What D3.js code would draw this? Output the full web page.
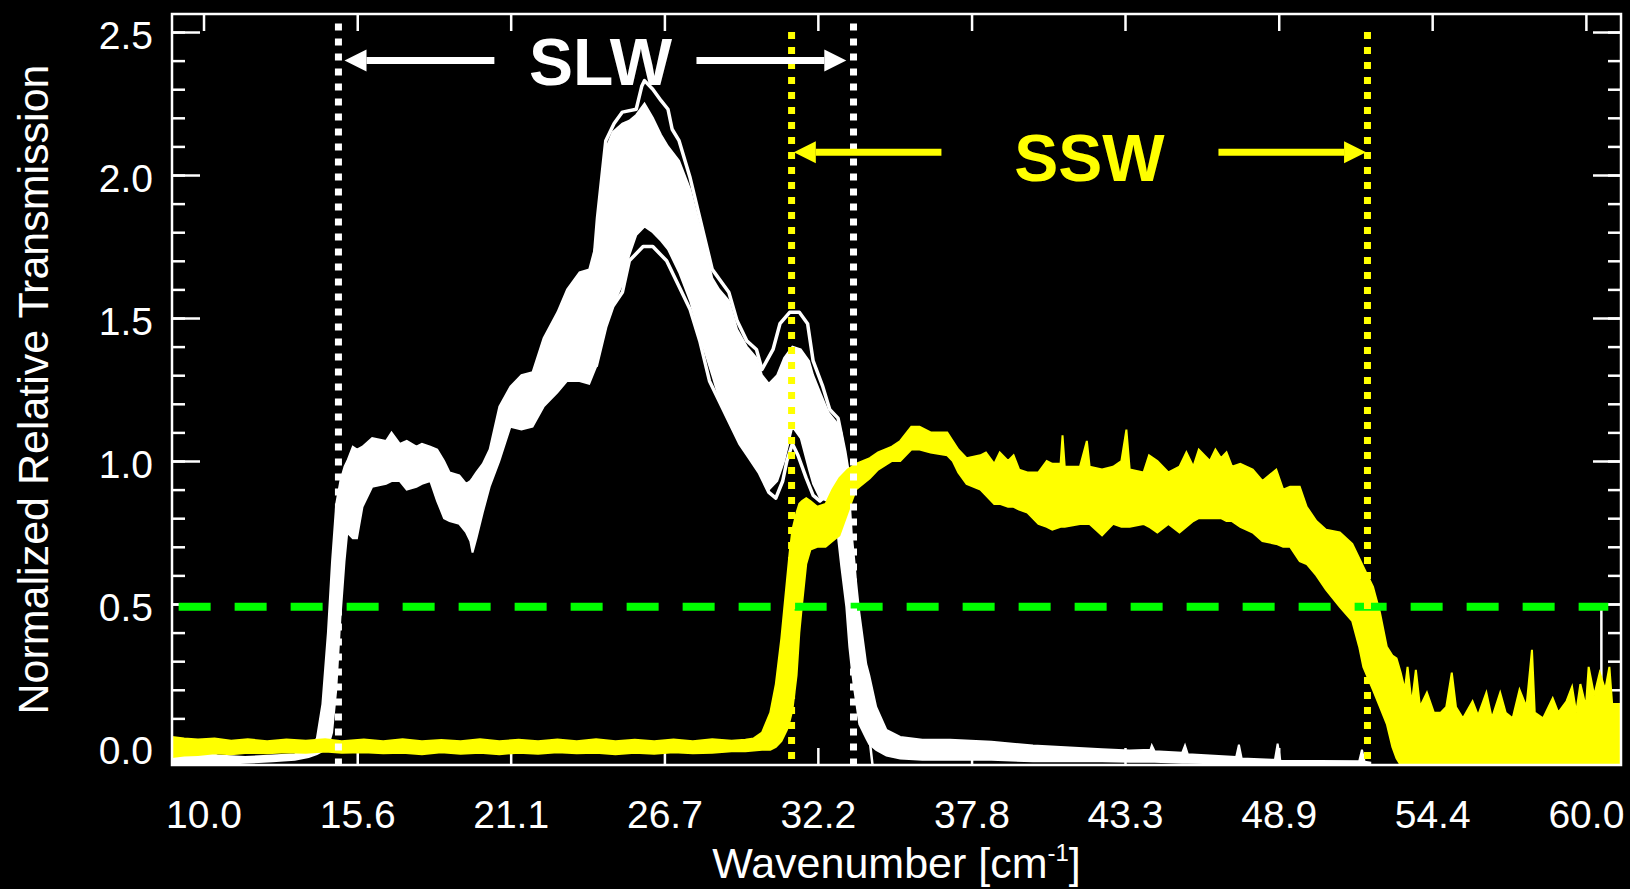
<!DOCTYPE html>
<html>
<head>
<meta charset="utf-8">
<script src="https://cdn.jsdelivr.net/npm/d3@7"></script>
<style>
  html, body { margin: 0; padding: 0; background: #000; }
  svg { display: block; }
  text { font-family: "Liberation Sans", Arial, Helvetica, sans-serif; fill: #fff; }
</style>
</head>
<body>
<div id="chart"></div>
<script>
// SPIRE FTS spectral response: SLW (white) and SSW (yellow) detector bundles

const width = 1630, height = 889;
const margin = {left: 172, right: 9, top: 14, bottom: 124};

// axis ticks
const xTicks = [10.0, 15.56, 21.11, 26.67, 32.22, 37.78, 43.33, 48.89, 54.44, 60.0];
const yMajor = [0.0, 0.5, 1.0, 1.5, 2.0, 2.5];

// SLW dense bundle: [wavenumber, low, high]
const slwBand = [
  [8.86,-0.07,-0.02],[10.3,-0.07,-0.02],[10.5,-0.06,-0.03],[11.5,-0.055,-0.035],[12.5,-0.05,-0.03],
  [13.3,-0.045,-0.025],[13.8,-0.035,-0.01],[14.1,-0.025,0.03],[14.3,-0.015,0.15],[14.5,0.0,0.4],
  [14.65,0.05,0.65],[14.8,0.2,0.85],[14.95,0.45,0.93],[15.1,0.65,0.98],[15.2,0.75,1.0],
  [15.4,0.73,1.05],[15.55,0.73,1.04],[15.75,0.84,1.05],[16.1,0.91,1.08],[16.6,0.92,1.07],
  [16.8,0.93,1.1],[17.1,0.93,1.06],[17.35,0.9,1.07],[17.7,0.91,1.05],[17.9,0.92,1.06],
  [18.2,0.93,1.05],[18.45,0.86,1.04],[18.7,0.8,1.0],[18.9,0.79,0.96],[19.25,0.78,0.95],
  [19.5,0.75,0.92],[19.65,0.72,0.93],[19.73,0.68,0.94],[19.87,0.73,0.96],[20.1,0.82,0.99],
  [20.35,0.91,1.04],[20.7,1.0,1.19],[21.1,1.12,1.26],[21.5,1.11,1.3],[21.9,1.12,1.31],
  [22.3,1.19,1.43],[22.8,1.24,1.52],[23.15,1.28,1.6],[23.6,1.28,1.66],[23.95,1.27,1.67],
  [24.2,1.33,1.76],[24.55,1.47,2.09],[24.8,1.54,2.15],[25.15,1.62,2.18],[25.4,1.72,2.19],
  [25.65,1.79,2.21],[25.95,1.82,2.25],[26.25,1.8,2.2],[26.55,1.77,2.14],[26.8,1.74,2.1],
  [27.2,1.66,2.05],[27.6,1.56,1.95],[27.95,1.44,1.82],[28.4,1.3,1.64],[28.65,1.22,1.6],
  [29.0,1.15,1.56],[29.3,1.08,1.46],[29.65,1.03,1.4],[30.0,0.98,1.36],[30.2,0.94,1.3],
  [30.45,0.9,1.27],[30.75,0.93,1.3],[31.0,1.0,1.36],[31.3,1.12,1.4],[31.6,1.08,1.39],
  [31.9,0.97,1.35],[32.05,0.92,1.3],[32.3,0.87,1.24],[32.6,0.86,1.17],[32.93,0.75,1.13],
  [33.07,0.63,1.1],[33.25,0.49,0.99],[33.36,0.35,0.88],[33.45,0.27,0.74],[33.54,0.2,0.65],
  [33.6,0.16,0.58],[33.72,0.08,0.47],[33.97,0.03,0.29],[34.08,0.01,0.25],[34.33,-0.01,0.14],
  [34.7,-0.03,0.06],[35.2,-0.04,0.035],[36.0,-0.045,0.025],[37.0,-0.045,0.025],[38.5,-0.045,0.018],
  [40.0,-0.05,0.005],[41.0,-0.05,0.0],[42.5,-0.05,-0.008],[43.5,-0.052,-0.012],[44.25,-0.052,-0.01],
  [44.3,-0.052,0.005],[44.4,-0.052,-0.015],[45.4,-0.055,-0.02],[45.5,-0.055,0.005],[45.6,-0.055,-0.025],
  [47.35,-0.058,-0.035],[47.45,-0.058,0.008],[47.55,-0.058,-0.04],[48.75,-0.058,-0.045],[48.85,-0.058,0.012],
  [48.95,-0.058,-0.048],[51.8,-0.06,-0.05],[51.9,-0.06,-0.01],[52.0,-0.06,-0.052],[52.2,-0.06,-0.055]
];

// SLW outlying detectors (highest and lowest curves)
const slwTop = [
  [23.95,1.67],[24.1,1.67],[24.25,1.85],[24.55,2.12],[24.85,2.18],[25.15,2.22],[25.65,2.23],
  [25.85,2.31],[25.95,2.33],[26.25,2.3],[26.55,2.26],[26.8,2.23],[26.95,2.16],[27.2,2.12],
  [27.6,1.99],[27.95,1.85],[28.4,1.67],[29.0,1.59],[29.3,1.49],[29.65,1.42],[30.0,1.39],
  [30.2,1.32],[30.6,1.39],[30.85,1.48],[31.2,1.52],[31.55,1.52],[31.85,1.48],[32.05,1.35],
  [32.4,1.26],[32.65,1.18],[32.95,1.15],[33.2,1.03],[33.35,0.94]
];
const slwBottom = [
  [24.2,1.33],[24.55,1.47],[24.8,1.54],[25.15,1.59],[25.4,1.7],[25.9,1.75],[26.25,1.75],
  [26.75,1.7],[27.2,1.61],[27.6,1.53],[27.95,1.42],[28.3,1.28],[28.65,1.21],[29.0,1.14],
  [29.4,1.06],[29.75,1.01],[30.1,0.96],[30.45,0.89],[30.7,0.87],[30.95,0.93],[31.1,1.0],
  [31.3,1.06],[31.5,1.02],[31.8,0.94],[32.05,0.88],[32.3,0.86],[32.65,0.89],[32.9,0.8]
];
const slwStray = [[33.95,0.13],[34.1,0.02],[34.2,-0.065]];
const slwEdgeSpike = [[60.56,-0.063],[60.56,0.48]];

// SSW bundle: [wavenumber, low, high]
const sswBand = [
  [8.86,-0.035,0.035],[9.3,-0.03,0.03],[9.8,-0.028,0.026],[10.4,-0.022,0.03],[11.0,-0.025,0.022],
  [11.6,-0.02,0.027],[12.3,-0.022,0.02],[13.0,-0.018,0.026],[13.7,-0.02,0.022],[14.4,-0.016,0.027],
  [15.0,-0.02,0.02],[15.8,-0.018,0.026],[16.5,-0.022,0.02],[17.2,-0.02,0.027],[17.9,-0.025,0.02],
  [18.6,-0.018,0.024],[19.3,-0.024,0.02],[20.0,-0.02,0.027],[20.7,-0.025,0.02],[21.4,-0.02,0.025],
  [22.1,-0.024,0.02],[22.8,-0.018,0.026],[23.5,-0.022,0.02],[24.2,-0.02,0.027],[24.9,-0.025,0.02],
  [25.6,-0.02,0.025],[26.3,-0.024,0.02],[27.0,-0.018,0.026],[27.7,-0.022,0.02],[28.4,-0.02,0.027],
  [29.1,-0.015,0.022],[29.6,-0.015,0.025],[29.9,-0.012,0.03],[30.2,-0.01,0.05],[30.5,-0.01,0.12],
  [30.7,0.0,0.22],[30.9,0.02,0.38],[31.0,0.04,0.48],[31.1,0.06,0.58],[31.2,0.09,0.68],
  [31.3,0.13,0.76],[31.45,0.25,0.82],[31.55,0.4,0.85],[31.65,0.5,0.86],[31.8,0.64,0.87],
  [31.95,0.69,0.86],[32.2,0.7,0.84],[32.5,0.7,0.85],[32.75,0.72,0.9],[33.0,0.74,0.94],
  [33.3,0.82,0.97],[33.6,0.9,0.99],[34.1,0.94,1.01],[34.4,0.97,1.03],[34.9,1.0,1.05],
  [35.2,1.0,1.07],[35.6,1.04,1.12],[35.9,1.04,1.12],[36.3,1.03,1.1],[36.9,1.02,1.1],
  [37.1,1.0,1.07],[37.3,0.96,1.04],[37.6,0.92,1.01],[38.1,0.9,1.02],[38.3,0.88,1.03],
  [38.6,0.85,0.99],[38.8,0.85,1.03],[39.1,0.84,1.0],[39.3,0.84,1.02],[39.5,0.83,0.97],
  [39.8,0.82,0.96],[40.2,0.78,0.96],[40.5,0.77,1.0],[40.7,0.76,0.99],[41.0,0.77,0.99],
  [41.07,0.77,1.09],[41.15,0.77,0.98],[41.7,0.78,0.98],[41.95,0.78,1.07],[42.05,0.78,0.98],
  [42.5,0.74,0.97],[42.9,0.78,0.98],[43.2,0.77,1.0],[43.38,0.77,1.11],[43.5,0.77,0.97],
  [44.0,0.78,0.96],[44.2,0.77,1.02],[44.5,0.75,1.0],[44.9,0.78,0.96],[45.3,0.75,0.98],
  [45.55,0.77,1.03],[45.8,0.79,0.98],[46.0,0.8,1.04],[46.4,0.8,1.0],[46.6,0.8,1.04],
  [46.8,0.8,1.01],[47.0,0.79,1.03],[47.2,0.79,0.98],[47.5,0.77,0.99],[47.95,0.75,0.97],
  [48.3,0.72,0.93],[48.8,0.71,0.97],[49.05,0.7,0.9],[49.3,0.7,0.91],[49.65,0.65,0.91],
  [49.9,0.64,0.84],[50.25,0.6,0.79],[50.6,0.55,0.76],[51.1,0.49,0.75],[51.55,0.44,0.71],
  [51.8,0.35,0.66],[51.95,0.28,0.63],[52.3,0.2,0.56],[52.55,0.14,0.47],[52.8,0.08,0.35],
  [53.0,0.0,0.32],[53.15,-0.04,0.31],
  [53.3,-0.063,0.26],[53.45,-0.063,0.2],[53.55,-0.063,0.28],[53.7,-0.063,0.15],[53.85,-0.063,0.27],
  [54.0,-0.063,0.14],[54.25,-0.063,0.19],[54.5,-0.063,0.12],[54.75,-0.063,0.12],[54.95,-0.063,0.14],
  [55.15,-0.063,0.26],[55.3,-0.063,0.14],[55.55,-0.063,0.1],[55.9,-0.063,0.16],[56.1,-0.063,0.11],
  [56.4,-0.063,0.19],[56.6,-0.063,0.1],[56.9,-0.063,0.19],[57.1,-0.063,0.12],[57.35,-0.063,0.1],
  [57.6,-0.063,0.2],[57.85,-0.063,0.14],[58.05,-0.063,0.34],[58.15,-0.063,0.12],[58.45,-0.063,0.1],
  [58.8,-0.063,0.17],[59.0,-0.063,0.12],[59.3,-0.063,0.16],[59.5,-0.063,0.21],[59.65,-0.063,0.12],
  [59.8,-0.063,0.22],[60.0,-0.063,0.14],[60.1,-0.063,0.28],[60.3,-0.063,0.18],[60.5,-0.063,0.26],
  [60.7,-0.063,0.2],[60.85,-0.063,0.28],[60.95,-0.063,0.15],[61.27,-0.063,0.15]
];

// band limits (dotted lines), half-power level and labels
const slwEdges = [14.88, 33.51];
const sswEdges = [31.27, 52.1];
const halfLevel = 0.49;
const halfRange = [9.1, 60.81];
const slwArrows = [[20.52, 15.1], [27.83, 33.25]];
const sswArrows = [[36.69, 31.35], [46.71, 52.05]];
const labels = [
  {text: "SLW", x: 24.36, y: 2.315, arrowY: 2.40, color: "#ffffff"},
  {text: "SSW", x: 42.04, y: 1.979, arrowY: 2.08, color: "#ffff00"}
];

const x = d3.scaleLinear().domain([8.86, 61.27]).range([margin.left, width - margin.right]);
const y = d3.scaleLinear().domain([-0.063, 2.563]).range([height - margin.bottom, margin.top]);

const svg = d3.select("#chart").append("svg")
  .attr("width", width)
  .attr("height", height)
  .style("background", "#000");

svg.append("clipPath").attr("id", "plot-clip")
  .append("rect")
  .attr("x", x.range()[0]).attr("y", y.range()[1])
  .attr("width", x.range()[1] - x.range()[0])
  .attr("height", y.range()[0] - y.range()[1]);

// axes (ticks point inward on all four sides)
function styleAxis(g) {
  g.select(".domain").remove();
  g.selectAll(".tick line").attr("stroke", "#fff").attr("stroke-width", 2.5);
  g.selectAll(".tick text").attr("fill", "#fff").style("font-size", "39px")
    .style("font-family", "'Liberation Sans', Arial, sans-serif");
}
const yMinor = y.ticks(25);
const x0 = x.range()[0], x1 = x.range()[1], yb = y.range()[0], yt = y.range()[1];

svg.append("g").attr("transform", `translate(${x0},0)`)
  .call(d3.axisLeft(y).tickValues(yMinor).tickSize(-13).tickFormat(""))
  .call(styleAxis);
svg.append("g").attr("transform", `translate(${x0},0)`)
  .call(d3.axisLeft(y).tickValues(yMajor).tickSize(-28).tickPadding(19).tickFormat(d3.format(".1f")))
  .call(styleAxis)
  .call(g => g.selectAll(".tick text").attr("dy", "0.42em"));
svg.append("g").attr("transform", `translate(${x1},0)`)
  .call(d3.axisRight(y).tickValues(yMinor).tickSize(-13).tickFormat(""))
  .call(styleAxis);
svg.append("g").attr("transform", `translate(${x1},0)`)
  .call(d3.axisRight(y).tickValues(yMajor).tickSize(-28).tickFormat(""))
  .call(styleAxis);
svg.append("g").attr("transform", `translate(0,${yb})`)
  .call(d3.axisBottom(x).tickValues(xTicks).tickSize(-17).tickPadding(35).tickFormat(d3.format(".1f")))
  .call(styleAxis);
svg.append("g").attr("transform", `translate(0,${yt})`)
  .call(d3.axisTop(x).tickValues(xTicks).tickSize(-17).tickFormat(""))
  .call(styleAxis);

// curves
const plot = svg.append("g").attr("clip-path", "url(#plot-clip)");
const band = d3.area().x(d => x(d[0])).y0(d => y(d[1])).y1(d => y(d[2]));
const line = d3.line().x(d => x(d[0])).y(d => y(d[1]));

plot.append("path").datum(slwBand).attr("d", band)
  .attr("fill", "#fff").attr("stroke", "#fff").attr("stroke-width", 2);
[slwTop, slwBottom].forEach(c => plot.append("path").datum(c).attr("d", line)
  .attr("fill", "none").attr("stroke", "#fff").attr("stroke-width", 3.5).attr("stroke-linejoin", "round"));
[slwStray, slwEdgeSpike].forEach(c => plot.append("path").datum(c).attr("d", line)
  .attr("fill", "none").attr("stroke", "#fff").attr("stroke-width", 2.5));

plot.append("path").datum(sswBand).attr("d", band)
  .attr("fill", "#ffff00").attr("stroke", "#ffff00").attr("stroke-width", 2);

// half-power level
plot.append("line")
  .attr("x1", x(halfRange[0])).attr("x2", x(halfRange[1]))
  .attr("y1", y(halfLevel)).attr("y2", y(halfLevel))
  .attr("stroke", "#00ff00").attr("stroke-width", 8).attr("stroke-dasharray", "32,24");

// band edges
function edges(vals, color, top) {
  plot.selectAll(null).data(vals).enter().append("line")
    .attr("x1", d => x(d)).attr("x2", d => x(d))
    .attr("y1", y(top)).attr("y2", yb)
    .attr("stroke", color).attr("stroke-width", 7).attr("stroke-dasharray", "7,8");
}
edges(slwEdges, "#fff", 2.53);
edges(sswEdges, "#ffff00", 2.50);

// arrows and band labels
function arrow(from, to, yv, color) {
  const p0 = x(from), p1 = x(to), py = y(yv);
  const dir = Math.sign(p1 - p0), headLen = 22, headHalf = 11;
  svg.append("line")
    .attr("x1", p0).attr("x2", p1 - dir * headLen)
    .attr("y1", py).attr("y2", py)
    .attr("stroke", color).attr("stroke-width", 7);
  svg.append("path")
    .attr("d", `M${p1},${py}L${p1 - dir * headLen},${py - headHalf}L${p1 - dir * headLen},${py + headHalf}Z`)
    .attr("fill", color);
}
slwArrows.forEach(a => arrow(a[0], a[1], labels[0].arrowY, labels[0].color));
sswArrows.forEach(a => arrow(a[0], a[1], labels[1].arrowY, labels[1].color));

svg.selectAll(".band-label").data(labels).enter().append("text")
  .attr("class", "band-label")
  .attr("x", d => x(d.x)).attr("y", d => y(d.y))
  .attr("text-anchor", "middle")
  .style("font-size", "66px").style("font-weight", "bold")
  .style("fill", d => d.color)
  .text(d => d.text);

// frame
svg.append("rect")
  .attr("x", x0).attr("y", yt)
  .attr("width", x1 - x0).attr("height", yb - yt)
  .attr("fill", "none").attr("stroke", "#fff").attr("stroke-width", 2.5);

// axis titles
const xTitle = svg.append("text")
  .attr("x", (x0 + x1) / 2).attr("y", 878)
  .attr("text-anchor", "middle").style("font-size", "43px");
xTitle.append("tspan").text("Wavenumber [cm");
xTitle.append("tspan").attr("dy", -17).style("font-size", "24px").text("-1");
xTitle.append("tspan").attr("dy", 17).text("]");

svg.append("text")
  .attr("transform", `translate(48,${(yt + yb) / 2}) rotate(-90)`)
  .attr("text-anchor", "middle").style("font-size", "43px")
  .text("Normalized Relative Transmission");
</script>
</body>
</html>
